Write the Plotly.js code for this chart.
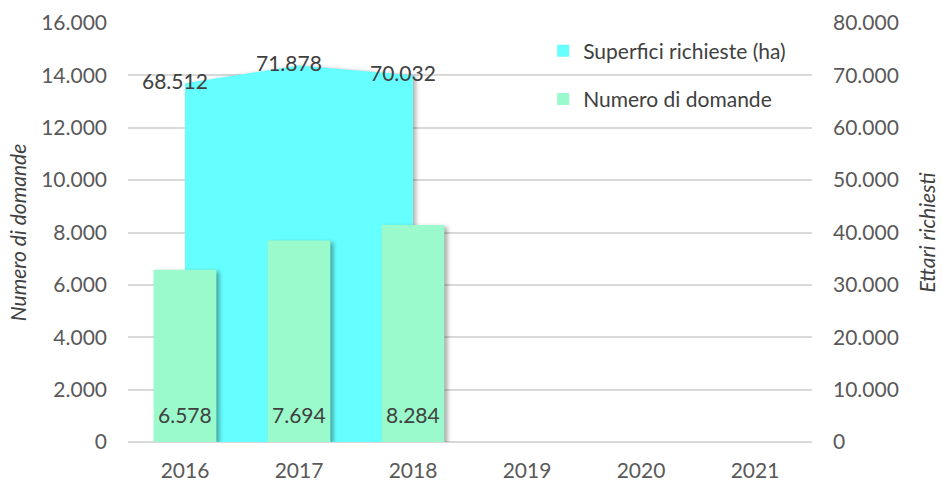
<!DOCTYPE html>
<html>
<head>
<meta charset="utf-8">
<script src="https://cdn.plot.ly/plotly-3.0.1.min.js"></script>
<style>
html,body{margin:0;padding:0;background:#fff;}
#chart{width:942px;height:483px;}
.barlayer .point path{filter:drop-shadow(3px 2px 2px rgba(0,0,0,0.35));}
.scatterlayer .js-fill{filter:drop-shadow(3px 1px 2px rgba(0,0,0,0.3));}
</style>
</head>
<body>
<div id="chart"></div>
<script>
const years = ['2016','2017','2018','2019','2020','2021'];
const areaYears = ['2016','2017','2018'];
const superfici = [68512, 71878, 70032];
const domande = [6578, 7694, 8284];
const leftTicks = [0,2000,4000,6000,8000,10000,12000,14000,16000];
const rightTicks = [0,10000,20000,30000,40000,50000,60000,70000,80000];

const fmtDot = v => String(v).replace(/\B(?=(\d{3})+(?!\d))/g, '.');
const catIndex = c => years.indexOf(c);

const FONT = 'Lato, "Open Sans", sans-serif';
const FS = 21;
const CYAN = '#66FFFF';
const MINT = '#9BFACB';

const traces = [
  {
    type: 'scatter', x: areaYears, y: superfici, yaxis: 'y',
    mode: 'lines', fill: 'tozeroy', fillcolor: CYAN,
    line: {width: 0, color: CYAN}, showlegend: false, hoverinfo: 'skip'
  },
  {
    type: 'bar', x: [null], y: [null], yaxis: 'y2',
    name: 'Superfici richieste (ha)', marker: {color: CYAN},
    legendgroup: 'a', showlegend: true
  },
  {
    type: 'bar', x: areaYears, y: domande, yaxis: 'y2',
    name: 'Numero di domande', marker: {color: MINT},
    legendgroup: 'b', width: 0.55
  }
];

const areaLabels = superfici.map((v, i) => ({
  x: catIndex(areaYears[i]), y: v, xref: 'x', yref: 'y',
  text: fmtDot(v), showarrow: false,
  xshift: -10, yshift: 3,
  font: {family: FONT, size: FS, color: '#404040'}
}));
const barLabels = domande.map((v, i) => ({
  x: catIndex(areaYears[i]), y: 0, xref: 'x', yref: 'y2',
  text: fmtDot(v), showarrow: false, yanchor: 'bottom',
  yshift: 13,
  font: {family: FONT, size: FS, color: '#404040'}
}));

const layout = {
  width: 942, height: 483,
  margin: {l: 128, r: 130, t: 23, b: 41},
  paper_bgcolor: '#fff', plot_bgcolor: '#fff',
  barmode: 'overlay',
  font: {family: FONT, size: FS, color: '#595959'},
  showlegend: true,
  legend: {
    x: 0.607, y: 0.982, xanchor: 'left', yanchor: 'top',
    font: {family: FONT, size: FS, color: '#404040'},
    traceorder: 'grouped', tracegroupgap: 18,
    bgcolor: 'rgba(0,0,0,0)', itemwidth: 30
  },
  xaxis: {
    type: 'category', categoryorder: 'array', categoryarray: years,
    range: [-0.5, 5.5], showgrid: false, zeroline: false, showline: false,
    ticks: '', tickfont: {family: FONT, size: FS, color: '#595959'},
    ticklabelstandoff: 14
  },
  yaxis: {
    side: 'right', range: [0, 80000], tickvals: rightTicks,
    ticktext: rightTicks.map(fmtDot),
    showgrid: true, gridcolor: '#D9D9D9', gridwidth: 2,
    zeroline: true, zerolinecolor: '#D9D9D9', zerolinewidth: 2,
    showline: false, ticks: '',
    tickfont: {family: FONT, size: FS, color: '#595959'},
    ticklabelstandoff: 20,
    title: {text: 'Ettari richiesti', font: {family: FONT, size: FS, color: '#404040', style: 'italic'}, standoff: 22}
  },
  yaxis2: {
    overlaying: 'y', side: 'left', range: [0, 16000], tickvals: leftTicks,
    ticktext: leftTicks.map(fmtDot),
    showgrid: false, zeroline: false, showline: false, ticks: '',
    tickfont: {family: FONT, size: FS, color: '#595959'},
    ticklabelstandoff: 20,
    title: {text: 'Numero di domande', font: {family: FONT, size: FS, color: '#404040', style: 'italic'}, standoff: 8}
  },
  annotations: areaLabels.concat(barLabels)
};

Plotly.newPlot('chart', traces, layout, {displayModeBar: false, staticPlot: true});
</script>
</body>
</html>
